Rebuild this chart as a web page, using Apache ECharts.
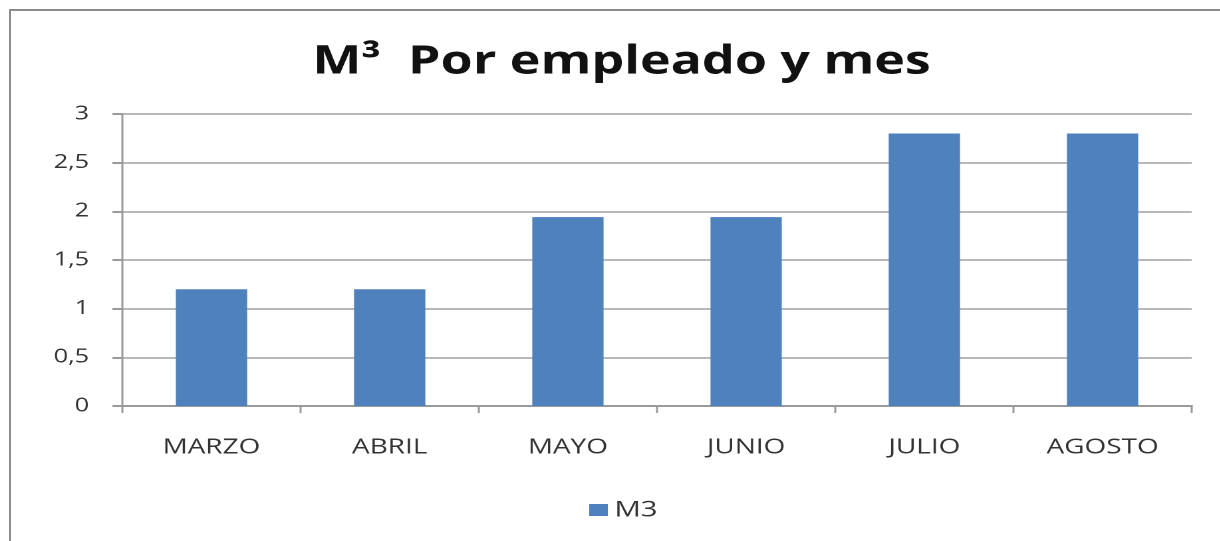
<!DOCTYPE html>
<html>
<head>
<meta charset="utf-8">
<script src="https://cdn.jsdelivr.net/npm/echarts@6/dist/echarts.min.js"></script>
<style>
  html, body { margin: 0; padding: 0; background: #fff; overflow: hidden; }
  #frame {
    position: absolute; left: 9px; top: 9px; width: 1220px; height: 532px;
    border-left: 2px solid #8c8c8c; border-top: 2px solid #8c8c8c;
    box-sizing: border-box;
  }
  /* the original picture is stretched sideways, so draw narrower and widen it */
  #chart {
    position: absolute; left: 0; top: 0;
    width: 917px; height: 541px;
    transform: scaleX(1.33); transform-origin: 0 0;
  }
</style>
</head>
<body>
<div id="chart"></div>
<div id="frame"></div>
<script>
const months = ['MARZO', 'ABRIL', 'MAYO', 'JUNIO', 'JULIO', 'AGOSTO']
const m3Values = [1.2, 1.2, 1.94, 1.94, 2.8, 2.8]
const seriesName = 'M3'

const chart = echarts.init(document.getElementById('chart'), null, { devicePixelRatio: 2 })
chart.setOption({
  animation: false,
  title: {
    text: 'M³  Por empleado y mes',
    left: 230,
    top: 38,
    textStyle: {
      fontFamily: 'Open Sans',
      fontWeight: 'bold',
      fontSize: 39,
      color: '#111'
    }
  },
  legend: {
    bottom: 15,
    left: 438,
    itemWidth: 14,
    itemHeight: 12,
    itemGap: 6,
    icon: 'rect',
    textStyle: { fontFamily: 'Open Sans', fontSize: 22, color: '#333' },
    data: [seriesName]
  },
  grid: { left: 92, right: 21, top: 114, bottom: 135 },
  xAxis: {
    type: 'category',
    data: months,
    axisLine: { lineStyle: { color: '#9a9a9a', width: 2 } },
    axisTick: { show: true, length: 7, lineStyle: { color: '#9a9a9a', width: 1.5 } },
    axisLabel: {
      fontFamily: 'Open Sans',
      fontSize: 21,
      color: '#333',
      margin: 31
    }
  },
  yAxis: {
    type: 'value',
    min: 0,
    max: 3,
    interval: 0.5,
    axisLine: { show: true, lineStyle: { color: '#9a9a9a', width: 1.5 } },
    axisTick: { show: true, length: 7.5, lineStyle: { color: '#9a9a9a', width: 2 } },
    splitLine: { lineStyle: { color: '#b8b8b8', width: 2 } },
    axisLabel: {
      fontFamily: 'Open Sans',
      fontSize: 19,
      color: '#333',
      margin: 25,
      formatter: v => String(v).replace('.', ',')
    }
  },
  series: [{
    name: seriesName,
    type: 'bar',
    data: m3Values,
    barWidth: '40%',
    itemStyle: { color: '#4f81bd' }
  }]
})
</script>
</body>
</html>
